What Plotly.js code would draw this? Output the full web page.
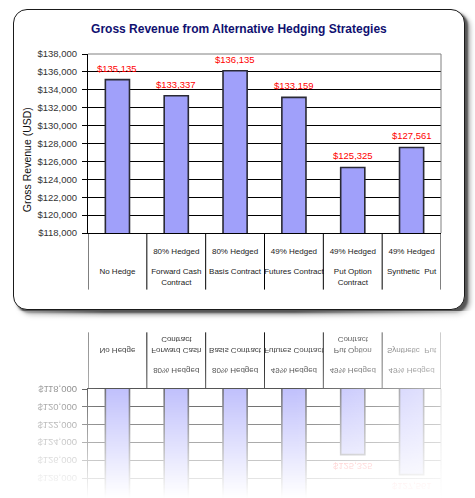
<!DOCTYPE html>
<html>
<head>
<meta charset="utf-8">
<script src="https://cdn.plot.ly/plotly-3.0.1.min.js"></script>
<style>
  html, body { margin:0; padding:0; background:#ffffff; }
  #wrap { position:relative; width:475px; height:498px; overflow:hidden; background:#fff; }
  #panel { position:absolute; left:13px; top:9px; width:450px; height:299px;
           border:1.5px solid #1a1a1a; border-radius:14px; background:#fff;
           box-shadow: 3px 3px 2px #555, 5px 5px 5px rgba(0,0,0,0.35); }
  #chart { position:absolute; left:0; top:0; width:475px; height:311px; }
  #refl { position:absolute; left:0; top:311px; width:475px; height:187px;
          transform: scaleY(-1);
          -webkit-mask-image: linear-gradient(to top, rgba(0,0,0,1) 0%, rgba(0,0,0,0.8) 30%, rgba(0,0,0,0.45) 60%, rgba(0,0,0,0.1) 90%, rgba(0,0,0,0) 100%);
          mask-image: linear-gradient(to top, rgba(0,0,0,1) 0%, rgba(0,0,0,0.8) 30%, rgba(0,0,0,0.45) 60%, rgba(0,0,0,0.1) 90%, rgba(0,0,0,0) 100%); }
  #reflfade { position:absolute; left:0; top:311px; width:475px; height:187px;
          background: linear-gradient(to right, rgba(255,255,255,0.5) 0%, rgba(255,255,255,0) 22%, rgba(255,255,255,0) 62%, rgba(255,255,255,0.7) 100%); }
</style>
</head>
<body>
<div id="wrap">
  <div id="panel"></div>
  <div id="refl"></div>
  <div id="reflfade"></div>
  <div id="chart"></div>
</div>
<script>
// ---- data ----
const categories = [
  "<br><br>No Hedge",
  "80% Hedged<br><br>Forward Cash<br>Contract",
  "80% Hedged<br><br>Basis Contract",
  "49% Hedged<br><br>Futures Contract",
  "49% Hedged<br><br>Put Option<br>Contract",
  "49% Hedged<br><br>Synthetic  Put"
];
const revenue = [135135, 133337, 136135, 133159, 125325, 127561];
const revenueLabels = ["$135,135", "$133,337", "$136,135", "$133,159", "$125,325", "$127,561"];
const yRange = [118000, 138000];
const yTitle = "Gross Revenue (USD)";
const chartTitle = "Gross Revenue from Alternative Hedging Strategies";

const FONT = "Liberation Sans, Arial, sans-serif";

function build(reflection) {
  // reflection shows only the lower part of the value range (what fits below the panel)
  const yTop = reflection ? 130166 : yRange[1];
  const trace = {
    type: "bar",
    x: categories,
    y: revenue,
    cliponaxis: !!reflection,
    marker: { color: "rgb(160,160,250)", line: { color: "#2a2a35", width: 1.6 } },
    hoverinfo: "none"
  };
  const plotBottomPx = 78;
  const plotH = reflection ? 108.7 : 178.7;
  const shapes = [];
  for (let i = 0; i <= categories.length; i++) {
    shapes.push({ type: "line", xref: "x", yref: "paper", x0: i - 0.5, x1: i - 0.5,
                  y0: 0, y1: -56.5 / plotH, line: { color: "#000", width: 1 } });
  }
  if (!reflection) {
    shapes.push({ type: "line", xref: "paper", yref: "paper", x0: 0, x1: 1, y0: 1, y1: 1,
                  line: { color: "#808080", width: 1 }, layer: "above" });
  }
  shapes.push({ type: "line", xref: "paper", yref: "paper", x0: 1, x1: 1, y0: 0, y1: 1,
                line: { color: "#808080", width: 1 }, layer: "above" });

  const tickvals = [];
  for (let v = yRange[0]; v <= yRange[1]; v += 2000) if (!reflection || v <= yTop - 300) tickvals.push(v);

  const annotations = [];
  revenue.forEach((v, i) => {
    if (reflection && v > yTop - 900) return;
    annotations.push({
      x: categories[i], y: v, xref: "x", yref: "y", text: revenueLabels[i],
      showarrow: false, yanchor: "bottom", yshift: 4,
      font: { family: FONT, size: 9.5, color: "#ff0000" }
    });
  });

  const layout = {
    width: 475, height: reflection ? 187 : 311,
    margin: { l: 88, r: 34, t: reflection ? 0 : 54, b: plotBottomPx },
    paper_bgcolor: "rgba(0,0,0,0)",
    plot_bgcolor: "rgba(0,0,0,0)",
    showlegend: false,
    bargap: 0.59,
    font: { family: FONT, color: "#222" },
    xaxis: {
      type: "category",
      range: [-0.5, categories.length - 0.5],
      showline: true, linecolor: "#000", linewidth: 1,
      ticks: "", showgrid: false, zeroline: false,
      tickfont: { family: FONT, size: 8, color: "#222" },
      tickangle: 0,
      ticklabelstandoff: 10
    },
    yaxis: {
      range: [yRange[0], yTop],
      tickvals: tickvals,
      tickformat: "$,.0f",
      showline: true, linecolor: "#000", linewidth: 1,
      ticks: "outside", ticklen: 5, tickcolor: "#000",
      showgrid: true, gridcolor: "#000", gridwidth: 1,
      zeroline: false,
      ticklabelstandoff: 3,
      tickfont: { family: FONT, size: 9.5, color: "#333" }
    },
    shapes: shapes,
    annotations: annotations
  };
  if (!reflection) {
    layout.title = {
      text: chartTitle,
      font: { family: FONT, size: 12, color: "#101070", weight: "bold" },
      x: 0.503, xanchor: "center", y: 0.907, yanchor: "middle", xref: "container", yref: "container"
    };
    layout.annotations.push({
      text: yTitle, textangle: -90, showarrow: false,
      xref: "paper", yref: "paper", x: (27 - 88) / 353, y: (232.7 - 160) / plotH,
      xanchor: "center", yanchor: "middle",
      font: { family: FONT, size: 10.5, color: "#111" }
    });
  }
  return { data: [trace], layout: layout };
}

const a = build(false);
Plotly.newPlot("chart", a.data, a.layout, { staticPlot: true, displayModeBar: false });
const b = build(true);
Plotly.newPlot("refl", b.data, b.layout, { staticPlot: true, displayModeBar: false });
</script>
</body>
</html>
